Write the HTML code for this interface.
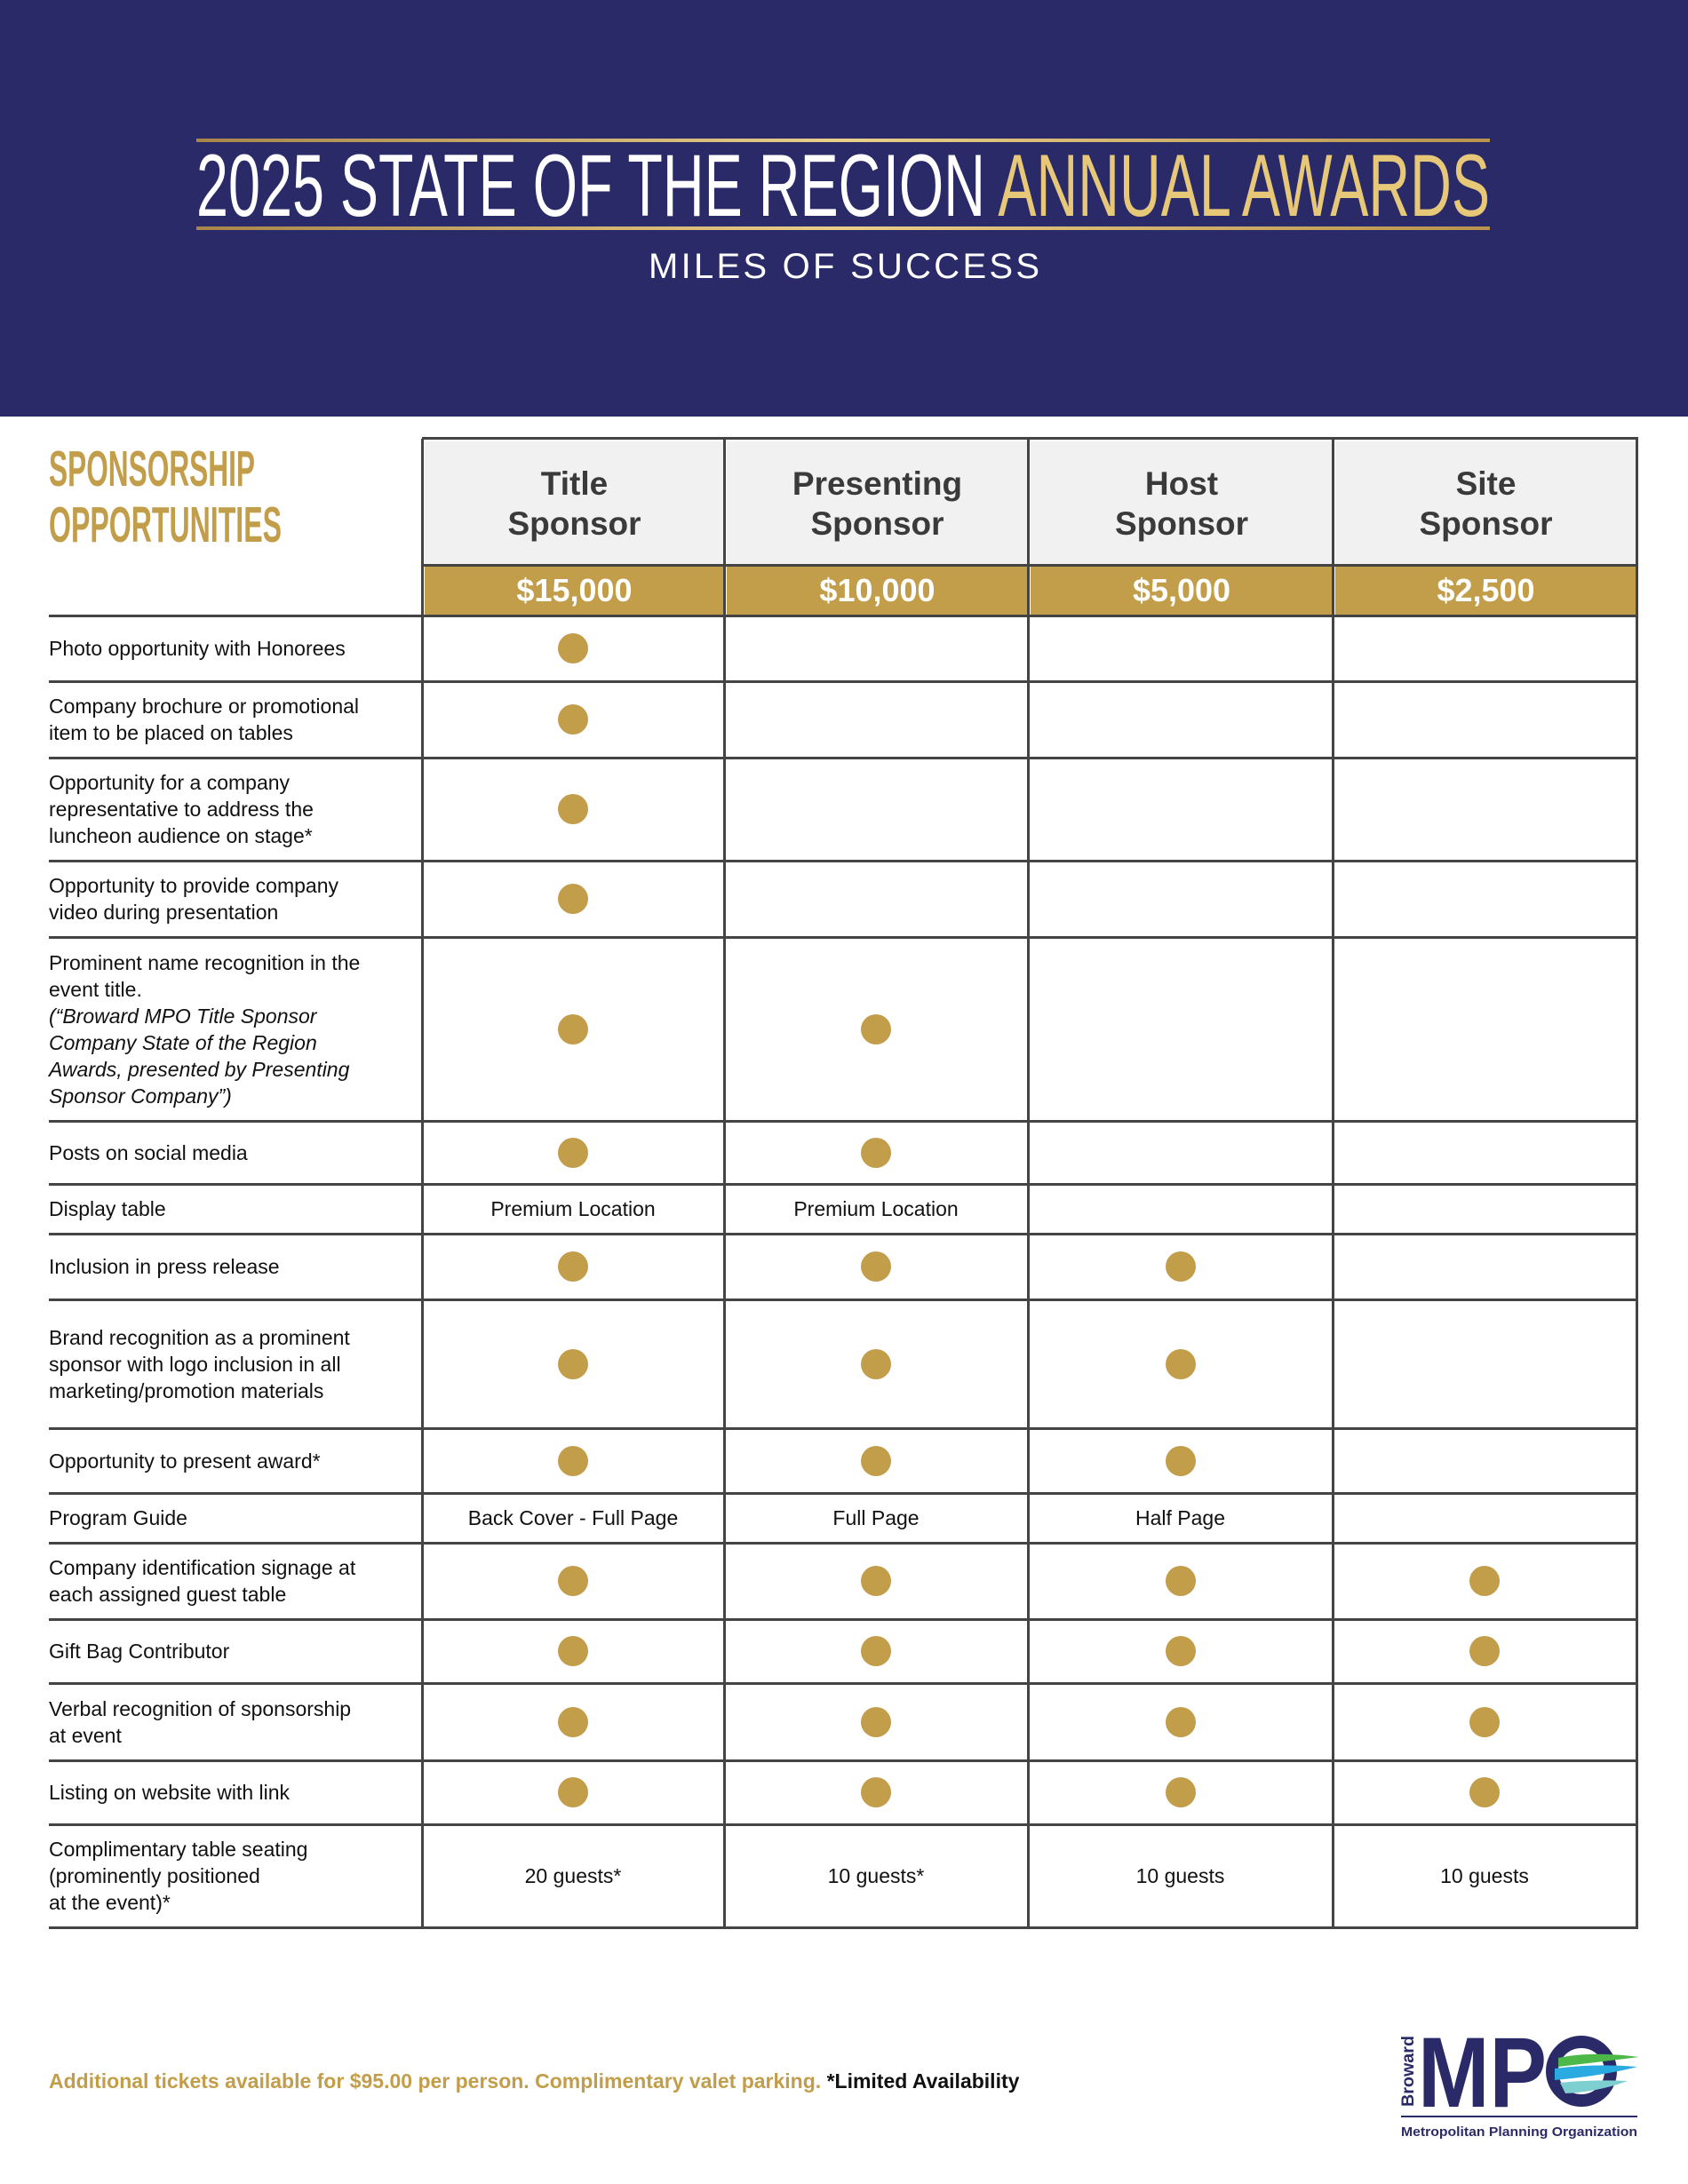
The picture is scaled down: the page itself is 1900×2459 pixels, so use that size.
<!DOCTYPE html>
<html><head><meta charset="utf-8"><style>
*{margin:0;padding:0;box-sizing:border-box}
body{width:1900px;height:2459px;background:#fff;position:relative;font-family:"Liberation Sans",sans-serif;overflow:hidden}
.a{position:absolute}
.hl{position:absolute;height:3px;background:#444}
.vl{position:absolute;width:3px;background:#444;top:494px;height:1678px}
.lab{position:absolute;left:55px;width:400px;font-size:23px;line-height:30px;color:#111;display:flex;align-items:center}
.cell{position:absolute;display:flex;align-items:center;justify-content:center;font-size:23px;color:#111}
.dot{width:34px;height:34px;border-radius:50%;background:#c29d4a}
.hd{position:absolute;top:497px;height:139px;background:#f1f1f1;display:flex;align-items:center;justify-content:center;text-align:center;font-weight:bold;font-size:37px;line-height:45px;color:#3a3a3a}
.pr{position:absolute;top:636px;height:57px;background:#c29d4a;display:flex;align-items:center;justify-content:center;font-weight:bold;font-size:36px;color:#fff}
</style></head><body>
<div class="a" style="left:0;top:0;width:1900px;height:469px;background:#2b2a69"></div>
<svg class="a" style="left:0;top:0" width="1900" height="469">
<defs><linearGradient id="g" x1="0" x2="1"><stop offset="0" stop-color="#a8864a"/><stop offset=".5" stop-color="#e8cf8a"/><stop offset="1" stop-color="#b8944e"/></linearGradient></defs>
<rect x="221" y="156" width="1456" height="4" fill="url(#g)"/>
<rect x="221" y="255" width="1456" height="4" fill="url(#g)"/>
<text x="221" y="243" font-family="Liberation Sans" font-size="99" fill="#fff" textLength="1456" lengthAdjust="spacingAndGlyphs">2025 STATE OF THE REGION <tspan fill="#e6c878">ANNUAL AWARDS</tspan></text>
<text x="730" y="313" font-family="Liberation Sans" font-size="40" fill="#fff" textLength="440" lengthAdjust="spacing">MILES OF SUCCESS</text>
</svg>
<svg class="a" style="left:0;top:490px" width="470" height="140">
<text x="55" y="57" font-family="Liberation Sans" font-weight="bold" font-size="57" fill="#c29d4a" textLength="232" lengthAdjust="spacingAndGlyphs">SPONSORSHIP</text>
<text x="55" y="120" font-family="Liberation Sans" font-weight="bold" font-size="57" fill="#c29d4a" textLength="262" lengthAdjust="spacingAndGlyphs">OPPORTUNITIES</text>
</svg>
<div class="hd" style="left:478px;width:337px">Title<br>Sponsor</div>
<div class="hd" style="left:818px;width:339px">Presenting<br>Sponsor</div>
<div class="hd" style="left:1160px;width:340px">Host<br>Sponsor</div>
<div class="hd" style="left:1503px;width:339px">Site<br>Sponsor</div>
<div class="pr" style="left:478px;width:337px">$15,000</div>
<div class="pr" style="left:818px;width:339px">$10,000</div>
<div class="pr" style="left:1160px;width:340px">$5,000</div>
<div class="pr" style="left:1503px;width:339px">$2,500</div>
<div class="hl" style="left:475px;top:492px;width:1369px"></div>
<div class="hl" style="left:475px;top:635px;width:1369px"></div>
<div class="vl" style="left:474px"></div>
<div class="vl" style="left:814px"></div>
<div class="vl" style="left:1156px"></div>
<div class="vl" style="left:1499px"></div>
<div class="vl" style="left:1841px"></div>
<div class="hl" style="left:55px;top:692px;width:1789px"></div>

<div class="lab" style="top:693px;height:74px">Photo opportunity with Honorees</div>
<div class="cell" style="left:475px;width:340px;top:693px;height:74px"><div class="dot"></div></div>
<div class="hl" style="left:55px;top:766px;width:1789px"></div>

<div class="lab" style="top:767px;height:86px">Company brochure or promotional<br>item to be placed on tables</div>
<div class="cell" style="left:475px;width:340px;top:767px;height:86px"><div class="dot"></div></div>
<div class="hl" style="left:55px;top:852px;width:1789px"></div>

<div class="lab" style="top:853px;height:116px">Opportunity for a company<br>representative to address the<br>luncheon audience on stage*</div>
<div class="cell" style="left:475px;width:340px;top:853px;height:116px"><div class="dot"></div></div>
<div class="hl" style="left:55px;top:968px;width:1789px"></div>

<div class="lab" style="top:969px;height:86px">Opportunity to provide company<br>video during presentation</div>
<div class="cell" style="left:475px;width:340px;top:969px;height:86px"><div class="dot"></div></div>
<div class="hl" style="left:55px;top:1054px;width:1789px"></div>

<div class="lab" style="top:1055px;height:207px"><div>Prominent name recognition in the event title.<br><i>(“Broward MPO Title Sponsor<br>Company State of the Region<br>Awards, presented by Presenting<br>Sponsor Company”)</i></div></div>
<div class="cell" style="left:475px;width:340px;top:1055px;height:207px"><div class="dot"></div></div>
<div class="cell" style="left:815px;width:342px;top:1055px;height:207px"><div class="dot"></div></div>
<div class="hl" style="left:55px;top:1261px;width:1789px"></div>

<div class="lab" style="top:1262px;height:71px">Posts on social media</div>
<div class="cell" style="left:475px;width:340px;top:1262px;height:71px"><div class="dot"></div></div>
<div class="cell" style="left:815px;width:342px;top:1262px;height:71px"><div class="dot"></div></div>
<div class="hl" style="left:55px;top:1332px;width:1789px"></div>

<div class="lab" style="top:1333px;height:56px">Display table</div>
<div class="cell" style="left:475px;width:340px;top:1333px;height:56px">Premium Location</div>
<div class="cell" style="left:815px;width:342px;top:1333px;height:56px">Premium Location</div>
<div class="hl" style="left:55px;top:1388px;width:1789px"></div>

<div class="lab" style="top:1389px;height:74px">Inclusion in press release</div>
<div class="cell" style="left:475px;width:340px;top:1389px;height:74px"><div class="dot"></div></div>
<div class="cell" style="left:815px;width:342px;top:1389px;height:74px"><div class="dot"></div></div>
<div class="cell" style="left:1157px;width:343px;top:1389px;height:74px"><div class="dot"></div></div>
<div class="hl" style="left:55px;top:1462px;width:1789px"></div>

<div class="lab" style="top:1463px;height:145px">Brand recognition as a prominent sponsor with logo inclusion in all marketing/promotion materials</div>
<div class="cell" style="left:475px;width:340px;top:1463px;height:145px"><div class="dot"></div></div>
<div class="cell" style="left:815px;width:342px;top:1463px;height:145px"><div class="dot"></div></div>
<div class="cell" style="left:1157px;width:343px;top:1463px;height:145px"><div class="dot"></div></div>
<div class="hl" style="left:55px;top:1607px;width:1789px"></div>

<div class="lab" style="top:1608px;height:73px">Opportunity to present award*</div>
<div class="cell" style="left:475px;width:340px;top:1608px;height:73px"><div class="dot"></div></div>
<div class="cell" style="left:815px;width:342px;top:1608px;height:73px"><div class="dot"></div></div>
<div class="cell" style="left:1157px;width:343px;top:1608px;height:73px"><div class="dot"></div></div>
<div class="hl" style="left:55px;top:1680px;width:1789px"></div>

<div class="lab" style="top:1681px;height:56px">Program Guide</div>
<div class="cell" style="left:475px;width:340px;top:1681px;height:56px">Back Cover - Full Page</div>
<div class="cell" style="left:815px;width:342px;top:1681px;height:56px">Full Page</div>
<div class="cell" style="left:1157px;width:343px;top:1681px;height:56px">Half Page</div>
<div class="hl" style="left:55px;top:1736px;width:1789px"></div>

<div class="lab" style="top:1737px;height:86px">Company identification signage at<br>each assigned guest table</div>
<div class="cell" style="left:475px;width:340px;top:1737px;height:86px"><div class="dot"></div></div>
<div class="cell" style="left:815px;width:342px;top:1737px;height:86px"><div class="dot"></div></div>
<div class="cell" style="left:1157px;width:343px;top:1737px;height:86px"><div class="dot"></div></div>
<div class="cell" style="left:1500px;width:342px;top:1737px;height:86px"><div class="dot"></div></div>
<div class="hl" style="left:55px;top:1822px;width:1789px"></div>

<div class="lab" style="top:1823px;height:72px">Gift Bag Contributor</div>
<div class="cell" style="left:475px;width:340px;top:1823px;height:72px"><div class="dot"></div></div>
<div class="cell" style="left:815px;width:342px;top:1823px;height:72px"><div class="dot"></div></div>
<div class="cell" style="left:1157px;width:343px;top:1823px;height:72px"><div class="dot"></div></div>
<div class="cell" style="left:1500px;width:342px;top:1823px;height:72px"><div class="dot"></div></div>
<div class="hl" style="left:55px;top:1894px;width:1789px"></div>

<div class="lab" style="top:1895px;height:87px">Verbal recognition of sponsorship<br>at event</div>
<div class="cell" style="left:475px;width:340px;top:1895px;height:87px"><div class="dot"></div></div>
<div class="cell" style="left:815px;width:342px;top:1895px;height:87px"><div class="dot"></div></div>
<div class="cell" style="left:1157px;width:343px;top:1895px;height:87px"><div class="dot"></div></div>
<div class="cell" style="left:1500px;width:342px;top:1895px;height:87px"><div class="dot"></div></div>
<div class="hl" style="left:55px;top:1981px;width:1789px"></div>

<div class="lab" style="top:1982px;height:72px">Listing on website with link</div>
<div class="cell" style="left:475px;width:340px;top:1982px;height:72px"><div class="dot"></div></div>
<div class="cell" style="left:815px;width:342px;top:1982px;height:72px"><div class="dot"></div></div>
<div class="cell" style="left:1157px;width:343px;top:1982px;height:72px"><div class="dot"></div></div>
<div class="cell" style="left:1500px;width:342px;top:1982px;height:72px"><div class="dot"></div></div>
<div class="hl" style="left:55px;top:2053px;width:1789px"></div>

<div class="lab" style="top:2054px;height:116px">Complimentary table seating<br>(prominently positioned<br>at the event)*</div>
<div class="cell" style="left:475px;width:340px;top:2054px;height:116px">20 guests*</div>
<div class="cell" style="left:815px;width:342px;top:2054px;height:116px">10 guests*</div>
<div class="cell" style="left:1157px;width:343px;top:2054px;height:116px">10 guests</div>
<div class="cell" style="left:1500px;width:342px;top:2054px;height:116px">10 guests</div>
<div class="hl" style="left:55px;top:2169px;width:1789px"></div>

<div class="a" style="left:55px;top:2330px;font-size:23px;font-weight:bold;color:#c29d4a">Additional tickets available for $95.00 per person. Complimentary valet parking. <span style="color:#111">*Limited Availability</span></div>

<svg class="a" style="left:1570px;top:2285px" width="280" height="130">
<text transform="translate(21,87) rotate(-90)" font-family="Liberation Sans" font-weight="bold" font-size="19" fill="#2b2a69" textLength="80" lengthAdjust="spacingAndGlyphs">Broward</text>
<text x="26" y="87" font-family="Liberation Sans" font-weight="bold" font-size="112" fill="#2b2a69" textLength="145" lengthAdjust="spacingAndGlyphs">MP</text>
<circle cx="210" cy="47" r="33" fill="none" stroke="#2b2a69" stroke-width="14"/>
<path d="M184 32 Q222 24 275 31 Q235 36 184 42Z" fill="#4bb848"/>
<path d="M180 44 Q225 38 273 42 Q235 52 180 57Z" fill="#29aae1"/>
<path d="M186 60 Q225 56 262 58 Q230 70 192 72Z" fill="#7ecfd0"/>
<rect x="7" y="97" width="266" height="2" fill="#2b2a69"/>
<text x="7" y="120" font-family="Liberation Sans" font-weight="bold" font-size="15" fill="#2b2a69" textLength="266" lengthAdjust="spacingAndGlyphs">Metropolitan Planning Organization</text>
</svg>
</body></html>
